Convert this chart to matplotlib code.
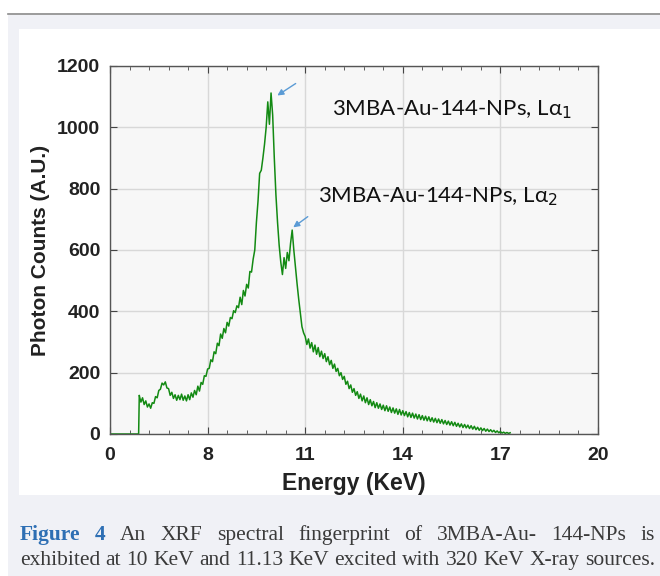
import numpy as np
import matplotlib.pyplot as plt
from matplotlib.patches import Rectangle
from matplotlib.lines import Line2D
from matplotlib import font_manager

# spectrum: flat zero until ~5.88 KeV, then one value every 0.05 KeV from 5.90
e_start = 5.90
e_step = 0.05
baseline_e = [5.0, 5.88]
baseline_c = [0, 0]
counts = [
    125, 104, 118, 96, 108, 88, 98, 84, 102, 100, 122, 118, 142, 146, 166, 160, 170, 150, 148, 126,
    136, 116, 128, 110, 126, 112, 130, 110, 124, 108, 128, 112, 134, 120, 142, 128, 156, 140, 168, 162,
    190, 188, 212, 214, 242, 236, 268, 262, 296, 288, 326, 312, 344, 330, 364, 352, 380, 376, 402, 396,
    418, 412, 446, 422, 468, 450, 488, 476, 530, 528, 570, 600, 690, 760, 850, 860, 900, 945, 1000, 1083,
    1010, 1112, 1040, 900, 780, 690, 615, 560, 520, 575, 540, 592, 565, 622, 665, 600, 545, 490, 440, 395,
    350, 330,
    318, 292, 310, 280, 298, 268, 290, 260, 282, 252, 270, 246, 262, 236, 252, 226, 240, 214, 228, 204,
    214, 190, 200, 178, 188, 162, 172, 148, 160, 136, 148, 126, 138, 116, 130, 108, 124, 102, 118, 96,
    112, 92, 106, 86, 102, 84, 98, 80, 94, 76, 92, 74, 88, 70, 85, 68, 82, 64, 80, 62,
    76, 60, 73, 56, 70, 54, 68, 52, 65, 49, 63, 47, 60, 45, 58, 43, 56, 41, 53, 39,
    51, 37, 49, 35, 47, 33, 44, 31, 42, 29, 40, 27, 38, 25, 35, 23, 33, 21, 31, 20,
    29, 18, 27, 16, 25, 14, 22, 12, 20, 11, 18, 9, 16, 8, 14, 7, 12, 5, 10, 4,
    8, 3, 6, 2, 5, 2, 4,
]
energy = e_start + e_step * np.arange(len(counts))

x_ticks = [5, 8, 11, 14, 17, 20]
x_ticklabels = ["0", "8", "11", "14", "17", "20"]
y_ticks = [0, 200, 400, 600, 800, 1000, 1200]

peak_labels = ["3MBA-Au-144-NPs, L\u03b1$_1$", "3MBA-Au-144-NPs, L\u03b1$_2$"]
caption1 = ["Figure", "4", "An", "XRF", "spectral", "fingerprint", "of", "3MBA-Au-", "144-NPs", "is"]
caption2 = "exhibited at 10 KeV and 11.13 KeV excited with 320 KeV X-ray sources."

names = {f.name for f in font_manager.fontManager.ttflist}
serif = "DejaVu Serif Condensed" if "DejaVu Serif Condensed" in names else "Liberation Serif"

W, H = 660, 576
fig = plt.figure(figsize=(W / 100, H / 100), dpi=100)
fig.patch.set_facecolor("white")

def fx(px):
    return px / W

def fy(py):
    return 1 - py / H

# page-like background
fig.patches.append(Rectangle((fx(8), 0), 1, fy(15), transform=fig.transFigure,
                             facecolor="#f0f1f6", edgecolor="none", zorder=-3))
fig.patches.append(Rectangle((fx(19), fy(495)), 1, fy(29) - fy(495), transform=fig.transFigure,
                             facecolor="white", edgecolor="none", zorder=-2))
fig.lines.append(Line2D([fx(8), 1], [fy(14), fy(14)], transform=fig.transFigure,
                        color="#8a8a8a", lw=1.2, zorder=-1))

ax = fig.add_axes([fx(110), fy(434), fx(598) - fx(110), fy(66) - fy(434)])
ax.set_facecolor("#f7f7f7")
ax.plot(baseline_e + list(energy[:1]), baseline_c + counts[:1], color="#138a13", lw=1.1)
ax.plot(energy, counts, color="#138a13", lw=1.1)

ax.set_xlim(5, 20)
ax.set_ylim(0, 1200)
ax.set_xticks(x_ticks)
ax.set_xticklabels(x_ticklabels)
ax.set_xticks(np.arange(5, 20.01, 0.6), minor=True)
ax.set_yticks(y_ticks)
ax.grid(True, which="major", color="#d8d8d8", lw=1.0)
ax.set_axisbelow(True)
ax.tick_params(which="both", direction="in", top=True, right=True, color="#444444")
ax.tick_params(which="major", length=5, labelsize=14, labelcolor="#222222")
ax.tick_params(axis="x", which="major", pad=9)
ax.tick_params(axis="y", which="major", pad=7)
ax.tick_params(which="minor", length=3)
for lab in ax.get_xticklabels() + ax.get_yticklabels():
    lab.set_fontweight("bold")
    lab.set_family("Liberation Sans")
for sp in ax.spines.values():
    sp.set_color("#555555")
    sp.set_linewidth(1.0)

ax.set_xlabel("Energy (KeV)", fontsize=16.5, fontweight="bold", family="Liberation Sans",
              color="#222222", labelpad=6)
ax.set_ylabel("Photon Counts (A.U.)", fontsize=15, fontweight="bold", family="Liberation Sans",
              color="#222222", labelpad=5)

ax.text(fx(332), fy(110), peak_labels[0], transform=fig.transFigure, fontsize=16,
        family="Lato", color="#111111", va="center", ha="left")
ax.text(fx(318), fy(197), peak_labels[1], transform=fig.transFigure, fontsize=16,
        family="Lato", color="#111111", va="center", ha="left")
ax.annotate("", xy=(fx(275), fy(97)), xytext=(fx(298), fy(82)), xycoords="figure fraction",
            arrowprops=dict(arrowstyle="-|>", color="#5b9bd5", lw=1.0, mutation_scale=9))
ax.annotate("", xy=(fx(291), fy(229)), xytext=(fx(310), fy(215)), xycoords="figure fraction",
            arrowprops=dict(arrowstyle="-|>", color="#5b9bd5", lw=1.0, mutation_scale=9))

# justified caption lines
fig.canvas.draw()
renderer = fig.canvas.get_renderer()

def justify(words, y, colors, weights, left=20, right=655, size=15.5):
    objs = []
    for w, c, wt in zip(words, colors, weights):
        objs.append(fig.text(0, fy(y), w, fontsize=size, family=serif,
                             color=c, fontweight=wt, va="baseline", ha="left"))
    widths = [o.get_window_extent(renderer).width for o in objs]
    gap = (right - left - sum(widths)) / (len(objs) - 1)
    xpos = left
    for o, wd in zip(objs, widths):
        o.set_x(fx(xpos))
        xpos += wd + gap

justify(caption1, 540, ["#2e6fb4", "#2e6fb4"] + ["#3a3a3a"] * 8,
        ["bold", "bold"] + ["normal"] * 8)
words2 = caption2.split(" ")
justify(words2, 565, ["#3a3a3a"] * len(words2), ["normal"] * len(words2))

fig.savefig("out.png", dpi=100)
